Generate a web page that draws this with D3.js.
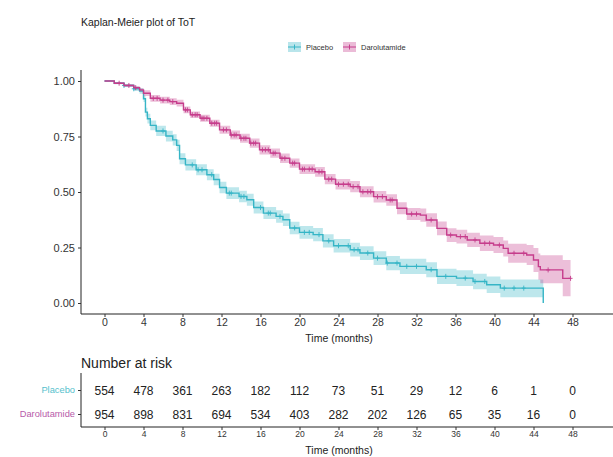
<!DOCTYPE html>
<html>
<head>
<meta charset="utf-8">
<script src="https://cdn.jsdelivr.net/npm/d3@7"></script>
<style>
  body { margin: 0; background: #fff; }
  text { font-family: "Liberation Sans", Arial, sans-serif; }
</style>
</head>
<body>
<svg id="chart"></svg>
<script>
// time ticks and number at risk
var months = [0, 4, 8, 12, 16, 20, 24, 28, 32, 36, 40, 44, 48];
var placeboRisk = [554, 478, 361, 263, 182, 112, 73, 51, 29, 12, 6, 1, 0];
var daroRisk = [954, 898, 831, 694, 534, 403, 282, 202, 126, 65, 35, 16, 0];
var yTicks = [0, 0.25, 0.5, 0.75, 1];

// Placebo KM curve
var placeboTime = [0, 1, 2, 3, 3.6, 4.0, 4.2, 4.4, 4.7, 5.3, 6.3, 7.0, 7.4, 7.7, 8.3, 9.4, 10.5, 11.2, 11.8, 12.5, 13.8, 14.6, 15.3, 16.3, 17.6, 18.3, 19.0, 20.0, 21.4, 22.4, 23.5, 25.2, 26.2, 27.6, 28.9, 30.3, 33.0, 34.1, 36.1, 37.8, 39.2, 40.6, 45.0];
var placeboSurv = [1, 0.99, 0.98, 0.965, 0.955, 0.92, 0.86, 0.83, 0.80, 0.775, 0.752, 0.735, 0.71, 0.65, 0.622, 0.60, 0.578, 0.556, 0.52, 0.495, 0.48, 0.465, 0.43, 0.405, 0.39, 0.375, 0.338, 0.318, 0.308, 0.28, 0.258, 0.24, 0.225, 0.202, 0.18, 0.165, 0.15, 0.12, 0.112, 0.097, 0.082, 0.067, 0];
var placeboLo = [1, 0.985, 0.973, 0.955, 0.943, 0.905, 0.84, 0.808, 0.778, 0.752, 0.728, 0.71, 0.685, 0.625, 0.597, 0.575, 0.553, 0.53, 0.494, 0.469, 0.454, 0.438, 0.403, 0.378, 0.362, 0.347, 0.31, 0.289, 0.278, 0.25, 0.228, 0.209, 0.194, 0.171, 0.148, 0.131, 0.116, 0.086, 0.077, 0.062, 0.045, 0.026, 0];
var placeboHi = [1, 0.995, 0.987, 0.975, 0.967, 0.935, 0.88, 0.852, 0.822, 0.798, 0.776, 0.76, 0.735, 0.675, 0.647, 0.625, 0.603, 0.582, 0.546, 0.521, 0.506, 0.492, 0.457, 0.432, 0.418, 0.403, 0.366, 0.347, 0.338, 0.31, 0.288, 0.271, 0.256, 0.233, 0.212, 0.199, 0.184, 0.154, 0.147, 0.132, 0.119, 0.106, 0];
var placeboCensor = [2, 3, 6, 9, 9.6, 10, 11, 12.8, 13, 14, 14.3, 16, 16.8, 17, 18, 19.5, 20.5, 21, 22, 23, 24, 25, 25.6, 26, 27, 28, 29, 30, 31, 32, 33.5, 35, 37, 38, 39, 41, 42, 43];

// Darolutamide KM curve
var daroTime = [0, 1, 2, 3, 3.6, 4.0, 4.7, 5.7, 6.7, 7.4, 8.1, 8.8, 9.8, 10.8, 11.8, 12.9, 13.9, 14.9, 15.9, 17.0, 18.0, 19.0, 20.0, 21.6, 22.6, 23.7, 25.2, 26.2, 27.6, 28.9, 30.0, 31.0, 32.4, 33.0, 34.1, 35.1, 36.1, 37.2, 38.5, 39.9, 40.9, 41.4, 43.3, 44.0, 44.5, 44.7, 47.0, 47.8];
var daroSurv = [1, 0.99, 0.98, 0.97, 0.96, 0.945, 0.922, 0.914, 0.907, 0.90, 0.87, 0.848, 0.832, 0.81, 0.78, 0.757, 0.742, 0.72, 0.69, 0.675, 0.652, 0.63, 0.603, 0.591, 0.558, 0.535, 0.524, 0.501, 0.479, 0.464, 0.427, 0.401, 0.396, 0.374, 0.336, 0.306, 0.299, 0.284, 0.269, 0.261, 0.246, 0.224, 0.216, 0.194, 0.164, 0.149, 0.111, 0.111];
var daroLo = [1, 0.986, 0.975, 0.964, 0.953, 0.932, 0.907, 0.899, 0.892, 0.885, 0.855, 0.833, 0.816, 0.794, 0.762, 0.737, 0.722, 0.699, 0.669, 0.654, 0.631, 0.609, 0.581, 0.569, 0.535, 0.511, 0.499, 0.476, 0.453, 0.438, 0.4, 0.374, 0.366, 0.344, 0.305, 0.275, 0.268, 0.252, 0.234, 0.225, 0.21, 0.181, 0.171, 0.14, 0.105, 0.089, 0.03, 0.03];
var daroHi = [1, 0.994, 0.985, 0.976, 0.967, 0.958, 0.937, 0.929, 0.922, 0.915, 0.885, 0.863, 0.848, 0.826, 0.798, 0.777, 0.762, 0.741, 0.711, 0.696, 0.673, 0.651, 0.625, 0.613, 0.581, 0.559, 0.549, 0.526, 0.505, 0.49, 0.454, 0.428, 0.426, 0.404, 0.367, 0.337, 0.33, 0.316, 0.304, 0.297, 0.282, 0.267, 0.261, 0.248, 0.223, 0.215, 0.194, 0.194];
var daroCensor = [1.5, 2.5, 3.2, 5, 5.4, 6, 6.5, 7, 8.3, 8.5, 9, 9.3, 9.5, 10, 10.2, 10.5, 11, 11.3, 11.5, 12.2, 12.5, 13, 13.3, 13.5, 14, 14.3, 14.5, 15, 15.3, 15.5, 16.2, 16.5, 16.8, 17.3, 17.5, 18.2, 18.5, 19.3, 19.5, 20.3, 20.5, 21, 21.3, 22, 22.3, 23, 23.3, 24, 24.5, 25, 25.5, 26, 26.5, 27, 27.3, 28, 28.5, 29.3, 29.5, 31.5, 32, 33.5, 35.5, 36.5, 37, 38, 39, 39.5, 40.5, 42, 43, 45.5, 47.8];

var placeboColor = "#36b5c6";
var daroColor = "#c63d8c";

var width = 613, height = 457;
var svg = d3.select("#chart").attr("width", width).attr("height", height);

var x = d3.scaleLinear().domain([0, 48]).range([104.5, 572.5]);
var y = d3.scaleLinear().domain([0, 1]).range([303, 81]);

// title
svg.append("text")
    .attr("x", 81).attr("y", 26)
    .attr("font-size", 10.5).attr("fill", "#222")
    .text("Kaplan-Meier plot of ToT");

// legend
var legendItems = [
    {name: "Placebo", color: placeboColor, x: 288},
    {name: "Darolutamide", color: daroColor, x: 343}
];
var leg = svg.append("g").selectAll("g").data(legendItems).enter().append("g")
    .attr("transform", function(d) { return "translate(" + d.x + ",47)"; });
leg.append("rect").attr("x", 0).attr("y", -5).attr("width", 13).attr("height", 10)
    .attr("fill", function(d) { return d.color; }).attr("fill-opacity", 0.35);
leg.append("line").attr("x1", 0).attr("x2", 13).attr("y1", 0).attr("y2", 0)
    .attr("stroke", function(d) { return d.color; }).attr("stroke-width", 1);
leg.append("line").attr("x1", 6.5).attr("x2", 6.5).attr("y1", -2.5).attr("y2", 2.5)
    .attr("stroke", function(d) { return d.color; }).attr("stroke-width", 1);
leg.append("text").attr("x", 18).attr("y", 3)
    .attr("font-size", 7.5).attr("fill", "#333")
    .text(function(d) { return d.name; });

// builds rows for one curve
var makeRows = function(time, surv, lo, hi)
{
    return time.map(function(t, i)
    {
        return {t: t, s: surv[i], lo: lo[i], hi: hi[i]};
    });
}

// value of the step function at time t
var stepValue = function(rows, t)
{
    var v = rows[0].s;
    rows.forEach(function(r) { if (r.t <= t) v = r.s; });
    return v;
}

var plot = svg.append("g");

var drawCurve = function(rows, censor, color)
{
    var band = d3.area().curve(d3.curveStepAfter)
        .x(function(d) { return x(d.t); })
        .y0(function(d) { return y(d.lo); })
        .y1(function(d) { return y(d.hi); });
    plot.append("path").datum(rows)
        .attr("d", band).attr("fill", color).attr("fill-opacity", 0.33);

    var line = d3.line().curve(d3.curveStepAfter)
        .x(function(d) { return x(d.t); })
        .y(function(d) { return y(d.s); });
    plot.append("path").datum(rows)
        .attr("d", line).attr("fill", "none")
        .attr("stroke", color).attr("stroke-width", 1.4);

    var marks = plot.append("g").selectAll("g").data(censor).enter().append("g")
        .attr("transform", function(t) { return "translate(" + x(t) + "," + y(stepValue(rows, t)) + ")"; });
    marks.append("line").attr("x1", 0).attr("x2", 0).attr("y1", -2.5).attr("y2", 2.5)
        .attr("stroke", color).attr("stroke-width", 0.9);
    marks.append("line").attr("x1", -2).attr("x2", 2).attr("y1", 0).attr("y2", 0)
        .attr("stroke", color).attr("stroke-width", 0.9);
}

drawCurve(makeRows(placeboTime, placeboSurv, placeboLo, placeboHi), placeboCensor, placeboColor);
drawCurve(makeRows(daroTime, daroSurv, daroLo, daroHi), daroCensor, daroColor);

// main axes
svg.append("line").attr("x1", 81).attr("x2", 81).attr("y1", 70).attr("y2", 314)
    .attr("stroke", "#222").attr("stroke-width", 1);
svg.append("line").attr("x1", 81).attr("x2", 613).attr("y1", 314).attr("y2", 314)
    .attr("stroke", "#222").attr("stroke-width", 1);

svg.append("g").attr("transform", "translate(81,0)")
    .call(d3.axisLeft(y).tickValues(yTicks).tickSize(3).tickFormat(d3.format(".2f")))
    .call(function(g) { g.select(".domain").remove(); })
    .call(function(g)
    {
        g.selectAll("text").attr("font-size", 11).attr("fill", "#333")
            .style("font-family", "'Liberation Sans', Arial, sans-serif");
        g.selectAll("line").attr("stroke", "#333");
    });

svg.append("g").attr("transform", "translate(0,314)")
    .call(d3.axisBottom(x).tickValues(months).tickSize(3))
    .call(function(g) { g.select(".domain").remove(); })
    .call(function(g)
    {
        g.selectAll("text").attr("font-size", 10.5).attr("fill", "#333").attr("dy", "0.6em")
            .style("font-family", "'Liberation Sans', Arial, sans-serif");
        g.selectAll("line").attr("stroke", "#333");
    });

svg.append("text").attr("x", 339).attr("y", 342)
    .attr("text-anchor", "middle").attr("font-size", 10.5).attr("fill", "#222")
    .text("Time (months)");

// risk table
svg.append("text").attr("x", 81).attr("y", 368)
    .attr("font-size", 14).attr("fill", "#222")
    .text("Number at risk");

var groups = ["Placebo", "Darolutamide"];
var groupColors = ["#55bfcd", "#b75aa9"];
var riskRows = [placeboRisk, daroRisk];
var rowY = d3.scalePoint().domain(groups).range([390, 414]);

svg.append("line").attr("x1", 81).attr("x2", 81).attr("y1", 373).attr("y2", 427)
    .attr("stroke", "#222").attr("stroke-width", 1);
svg.append("line").attr("x1", 81).attr("x2", 613).attr("y1", 427).attr("y2", 427)
    .attr("stroke", "#222").attr("stroke-width", 1);

svg.append("g").attr("transform", "translate(81,0)")
    .call(d3.axisLeft(rowY).tickSize(3))
    .call(function(g) { g.select(".domain").remove(); })
    .call(function(g)
    {
        g.selectAll("text").attr("font-size", 9.3).attr("fill", function(d, i) { return groupColors[i]; })
            .style("font-family", "'Liberation Sans', Arial, sans-serif");
        g.selectAll("line").attr("stroke", "#333");
    });

riskRows.forEach(function(vals, r)
{
    svg.append("g").selectAll("text").data(vals).enter().append("text")
        .attr("x", function(d, i) { return x(months[i]); })
        .attr("y", rowY(groups[r]) + 4.5)
        .attr("text-anchor", "middle").attr("font-size", 12).attr("fill", "#222")
        .text(function(d) { return d; });
});

svg.append("g").attr("transform", "translate(0,427)")
    .call(d3.axisBottom(x).tickValues(months).tickSize(3))
    .call(function(g) { g.select(".domain").remove(); })
    .call(function(g)
    {
        g.selectAll("text").attr("font-size", 8.5).attr("fill", "#333").attr("dy", "0.45em")
            .style("font-family", "'Liberation Sans', Arial, sans-serif");
        g.selectAll("line").attr("stroke", "#333");
    });

svg.append("text").attr("x", 339).attr("y", 454)
    .attr("text-anchor", "middle").attr("font-size", 10.5).attr("fill", "#222")
    .text("Time (months)");
</script>
</body>
</html>
